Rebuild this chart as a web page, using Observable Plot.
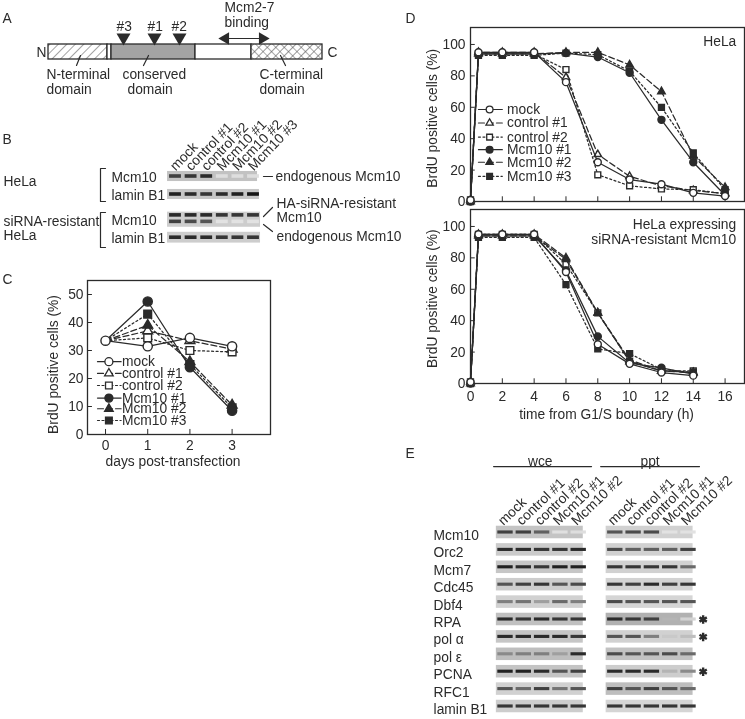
<!DOCTYPE html>
<html>
<head>
<meta charset="utf-8">
<script src="https://cdn.jsdelivr.net/npm/d3@7"></script>
<script src="https://cdn.jsdelivr.net/npm/@observablehq/plot@0.6"></script>
<style>
html,body{margin:0;padding:0;background:#fff}
#page{position:relative;width:745px;height:719px;overflow:hidden;filter:blur(0.3px)}
#page svg{position:absolute;background:transparent}
.soft{filter:blur(0.55px)}
</style>
</head>
<body>
<div id="page"></div>
<script>
// ---------- Series names ----------
const seriesNames = ["mock","control #1","control #2","Mcm10 #1","Mcm10 #2","Mcm10 #3"];

// ---------- Panel C ----------
const daysC = [0,1,2,3];
const mockC = [33.5,31.5,34.5,31.5];
const control1C = [33.5,37,33.5,30.5];
const control2C = [33.5,34.5,30,29.5];
const mcm1C = [33.5,47.5,24,8.5];
const mcm2C = [33.5,39,26,10.5];
const mcm3C = [33.5,43,25,9.5];

// ---------- Panel D ----------
const hoursTop = [0,0.5,2,4,6,8,10,12,14,16];
const mockTop = [1,95,95,95,76,25,14,11,5.5,3.5];
const control1Top = [1,95,95,95,79,30,16,10,7,5];
const control2Top = [1,94,94,94,84,17,10,8,7.5,5];
const mcm1Top = [0,94,94,94,94.5,92,82,52,25,4];
const mcm2Top = [0,94,94,94,95,95,87,70,29,9];
const mcm3Top = [0,93,93,93,94.5,93.5,83,60,31,7.5];

const hoursBottom = [0,0.5,2,4,6,8,10,12,14];
const mockBottom = [1,95,95,95,71,25,12.5,7,5];
const control1Bottom = [1,95,95,95,80,45,14,8,7];
const control2Bottom = [1,95,95,95,76,45,14,8,8];
const mcm1Bottom = [0,94,94,94,72,30,13,10,6];
const mcm2Bottom = [0,94,94,94,79,45,15,8,7];
const mcm3Bottom = [0,93,93,93,63,22,19,9,7];

// ---------- Panel E blots: band strength per lane, strip tone ----------
const laneNamesE = ["mock","control #1","control #2","Mcm10 #1","Mcm10 #2"];
const proteinsE = ["Mcm10","Orc2","Mcm7","Cdc45","Dbf4","RPA","pol α","pol ε","PCNA","RFC1","lamin B1"];
const wceBands = [
 [.8,.8,.65,.04,.05],[.9,.9,.85,.85,.9],[.95,.9,.85,.95,.95],[.7,.8,.85,.7,.75],
 [.5,.55,.35,.6,.5],[.9,.85,.9,.85,.85],[.9,.9,.9,.9,.85],[.45,.5,.5,.35,.9],
 [.95,.95,.9,.7,.8],[.7,.6,.8,.55,.7],[.85,.85,.85,.85,.85]];
const pptBands = [
 [.7,.75,.75,.03,.03],[.75,.65,.65,.65,.8],[.85,.85,.85,.85,.6],[.85,.8,.9,.8,.85],
 [.75,.7,.7,.7,.7],[.9,.85,.8,.25,.1],[.7,.7,.5,.15,.2],[.75,.7,.7,.75,.6],
 [.9,.9,.9,.25,.45],[.8,.7,.8,.7,.6],[.85,.85,.85,.85,.85]];
const wceTone = [.17,.14,.16,.13,.11,.19,.16,.2,.17,.11,.13];
const pptTone = [.11,.11,.11,.1,.09,.26,.11,.18,.13,.2,.09];
const starredE = ["RPA","pol α","PCNA"];

// ---------- Panel B blots ----------
const laneNamesB = ["mock","control #1","control #2","Mcm10 #1","Mcm10 #2","Mcm10 #3"];
const blotBMain = [
 [.8,.85,.9,.05,.05,.05],[.95,.9,.85,.9,.95,1],[.9,.9,.9,.85,.85,.85],[.9,.9,.9,.85,.85,.85]];
const blotBEndo = [.8,.75,.7,.03,.03,.03];

const ink = "#2b2b2b";
const font = "'Liberation Sans', Arial, sans-serif";
const fs = 13.8;
const page = document.getElementById("page");
function place(svg,left,top){
  svg.style.left = left+"px"; svg.style.top = top+"px";
  page.appendChild(svg);
  return svg;
}
const rootStyle = {fontFamily:font,fontSize:fs+"px",color:ink,background:"transparent",overflow:"visible"};

const styles = [
  {symbol:"circle",fill:"white",dash:null,k:1},
  {symbol:"triangle",fill:"white",dash:"6,3",k:.8},
  {symbol:"square",fill:"white",dash:"2,2.5",k:.95},
  {symbol:"circle",fill:ink,dash:null,k:1},
  {symbol:"triangle",fill:ink,dash:"6,3",k:.8},
  {symbol:"square",fill:ink,dash:"2,2.5",k:.95}
];
function seriesMarks(xs,ys,s,r,hideFirst){
  const pts = xs.map((x,i)=>({x,y:ys[i]}));
  return [
    Plot.line(pts,{x:"x",y:"y",stroke:ink,strokeWidth:1.25,strokeDasharray:s.dash}),
    Plot.dot(hideFirst ? pts.slice(1) : pts,{x:"x",y:"y",symbol:s.symbol,r:r*s.k,fill:s.fill,stroke:ink,strokeWidth:1.4})
  ];
}
function legendMarks(x1,xm,x2,xt,ys,r){
  return seriesNames.flatMap((name,i)=>{
    const s = styles[i];
    return [
      Plot.line([[x1,ys[i]],[x2,ys[i]]],{stroke:ink,strokeWidth:1.2,strokeDasharray:s.dash}),
      Plot.dot([[xm,ys[i]]],{symbol:s.symbol,r:r*s.k,fill:s.fill,stroke:ink,strokeWidth:1.3}),
      Plot.text([name],{x:xt,y:ys[i],text:d=>d,textAnchor:"start",fontSize:fs,fill:ink})
    ];
  });
}
const drawOrder = [1,2,4,5,3,0];

// ---------- Panel C chart ----------
const valuesC = [mockC,control1C,control2C,mcm1C,mcm2C,mcm3C];
const yTicksC = [0,10,20,30,40,50];
place(Plot.plot({
  width:300,height:210,marginLeft:87,marginRight:30,marginTop:10,marginBottom:46,
  style:rootStyle,
  x:{domain:[-0.427,3.91],axis:null},
  y:{domain:[0,55],axis:null},
  marks:[
    Plot.axisY({ticks:yTicksC,tickSize:0,tickPadding:4,label:null,fill:ink,fontSize:fs}),
    Plot.axisX({ticks:daysC,tickSize:0,tickPadding:6,tickFormat:d=>d,label:null,fill:ink,fontSize:fs}),
    Plot.ruleX(daysC,{y1:0,y2:1.8,stroke:ink,strokeWidth:1}),
    Plot.ruleY(yTicksC,{x1:-0.427,x2:-0.31,stroke:ink,strokeWidth:1}),
    Plot.frame({stroke:ink,strokeWidth:1.3}),
    ...drawOrder.flatMap(i=>seriesMarks(daysC,valuesC[i],styles[i],4.6,i!==0)),
    ...legendMarks(-0.19,0.08,0.37,0.39,[26,21.8,17.5,13,9.2,5],4),
    Plot.text(["BrdU positive cells (%)"],{x:-1.23,y:25,text:d=>d,rotate:-90,fontSize:fs,fill:ink}),
    Plot.text(["days post-transfection"],{x:1.6,y:-9.5,text:d=>d,fontSize:fs,fill:ink})
  ]
}),0,270);

// ---------- Panel D charts ----------
const valuesTop = [mockTop,control1Top,control2Top,mcm1Top,mcm2Top,mcm3Top];
const valuesBottom = [mockBottom,control1Bottom,control2Bottom,mcm1Bottom,mcm2Bottom,mcm3Bottom];
const hourTicks = [0,2,4,6,8,10,12,14,16];
const yTicksD = [0,20,40,60,80,100];
place(Plot.plot({
  width:335,height:185,marginLeft:60,marginRight:1,marginTop:7,marginBottom:4,
  style:rootStyle,
  x:{domain:[0,17.22],axis:null},
  y:{domain:[0,110.8],axis:null},
  marks:[
    Plot.axisY({ticks:yTicksD,tickSize:0,tickPadding:5,label:null,fill:ink,fontSize:fs}),
    Plot.ruleX(hourTicks,{y1:0,y2:3,stroke:ink,strokeWidth:1}),
    Plot.ruleY(yTicksD,{x1:0,x2:.3,stroke:ink,strokeWidth:1}),
    Plot.frame({stroke:ink,strokeWidth:1.3}),
    ...drawOrder.flatMap(i=>seriesMarks(hoursTop,valuesTop[i],styles[i],3.5)),
    ...legendMarks(0.5,1.2,2,2.3,[58.6,50,41,33,25,16],3.4),
    Plot.text(["HeLa"],{x:16.7,y:102,text:d=>d,textAnchor:"end",fontSize:fs,fill:ink}),
    Plot.text(["BrdU positive cells (%)"],{x:-2.4,y:53,text:d=>d,rotate:-90,fontSize:fs,fill:ink})
  ]
}),410,20);
place(Plot.plot({
  width:335,height:225,marginLeft:60,marginRight:1,marginTop:9,marginBottom:42,
  style:rootStyle,
  x:{domain:[0,17.22],axis:null},
  y:{domain:[0,110.8],axis:null},
  marks:[
    Plot.axisY({ticks:yTicksD,tickSize:0,tickPadding:5,label:null,fill:ink,fontSize:fs}),
    Plot.axisX({ticks:hourTicks,tickSize:0,tickPadding:8,tickFormat:d=>d,label:null,fill:ink,fontSize:fs}),
    Plot.ruleX(hourTicks,{y1:0,y2:3,stroke:ink,strokeWidth:1}),
    Plot.ruleY(yTicksD,{x1:0,x2:.3,stroke:ink,strokeWidth:1}),
    Plot.frame({stroke:ink,strokeWidth:1.3}),
    ...drawOrder.flatMap(i=>seriesMarks(hoursBottom,valuesBottom[i],styles[i],3.5)),
    Plot.text(["HeLa expressing"],{x:16.7,y:101,text:d=>d,textAnchor:"end",fontSize:fs,fill:ink}),
    Plot.text(["siRNA-resistant Mcm10"],{x:16.7,y:91.5,text:d=>d,textAnchor:"end",fontSize:fs,fill:ink}),
    Plot.text(["BrdU positive cells (%)"],{x:-2.4,y:54,text:d=>d,rotate:-90,fontSize:fs,fill:ink}),
    Plot.text(["time from G1/S boundary (h)"],{x:8.55,y:-19.5,text:d=>d,fontSize:fs,fill:ink})
  ]
}),410,200);

// ---------- Panels A and B schematic layer (page units) ----------
const anno = [
 ["A",2,18],["B",2,139],["C",2,279],["D",405,18],["E",405,453],
 ["N",36,52],["C",327,52],
 ["#3",116,26],["#1",147,26],["#2",171,26],
 ["Mcm2-7",224,7],["binding",224,22],
 ["N-terminal",46,74],["domain",46,89],
 ["conserved",122,74],["domain",127,89],
 ["C-terminal",259,74],["domain",259,89],
 ["HeLa",3,181],["siRNA-resistant",3,221],["HeLa",3,235],
 ["Mcm10",111,177],["lamin B1",111,195],["Mcm10",111,220],["lamin B1",111,238],
 ["endogenous Mcm10",275,176],["HA-siRNA-resistant",276,203],["Mcm10",276,217],["endogenous Mcm10",276,236]
];
const leaderLines = [
 [[80,55],[76,65]],[[148,55],[143,65]],[[280,55],[285,65]],
 [[263,176],[272,176]],[[263,216],[272,207]],[[263,224],[272,231]],
 [[105,168],[100,168],[100,201],[105,201]],[[105,212],[100,212],[100,247],[105,247]],
 [[224,38],[263,38]]
];
const barSegments = [
 {x1:48,x2:107,fill:"url(#hatchA)"},
 {x1:107,x2:111,fill:"white"},
 {x1:111,x2:195,fill:"#a3a3a3"},
 {x1:195,x2:251,fill:"white"},
 {x1:251,x2:322,fill:"url(#crossA)"}
];
const schematic = Plot.plot({
  width:745,height:719,margin:0,
  style:rootStyle,
  x:{domain:[0,745],axis:null},
  y:{domain:[719,0],axis:null},
  marks:[
    Plot.rect(barSegments,{x1:"x1",x2:"x2",y1:44,y2:59,fill:"fill",stroke:ink,strokeWidth:1.3}),
    Plot.dot([123,154,179],{x:d=>d,y:37,symbol:"triangle",rotate:180,r:5.2,fill:ink}),
    ...leaderLines.map(l=>Plot.line(l,{stroke:ink,strokeWidth:1.2})),
    Plot.dot([[225,-90],[262,90]],{x:d=>d[0],y:38,rotate:d=>d[1],symbol:"triangle",r:4.6,fill:ink}),
    Plot.text(anno,{x:d=>d[1],y:d=>d[2],text:d=>d[0],textAnchor:"start",fontSize:fs,fill:ink})
  ]
});
place(schematic,0,0);
const defs = d3.select(schematic).insert("defs",":first-child");
const h = defs.append("pattern").attr("id","hatchA").attr("width",6).attr("height",6).attr("patternUnits","userSpaceOnUse").attr("patternTransform","rotate(45)");
h.append("rect").attr("width",6).attr("height",6).attr("fill","white");
h.append("line").attr("x1",0).attr("y1",0).attr("x2",0).attr("y2",6).attr("stroke","#666").attr("stroke-width",1.2);
const c = defs.append("pattern").attr("id","crossA").attr("width",6).attr("height",6).attr("patternUnits","userSpaceOnUse").attr("patternTransform","rotate(45)");
c.append("rect").attr("width",6).attr("height",6).attr("fill","white");
c.append("path").attr("d","M0 0V6M0 0H6").attr("stroke","#555").attr("stroke-width",1.2).attr("fill","none");

// ---------- Panel B blot layer ----------
const rowPosB = [0,1,2.4,3.4];
const stripB = [
 {r:rowPosB[0],a:.28,x2:5.26,tone:.18},{r:rowPosB[1],a:.28,x2:5.38,tone:.16},
 {r:rowPosB[2],a:.42,x2:5.45,tone:.13},{r:rowPosB[3],a:.3,x2:5.45,tone:.13}];
const bandsB = [];
blotBMain.forEach((row,r)=>row.forEach((v,l)=>bandsB.push({lane:l,y:rowPosB[r]+(r===2?-.24:0),v})));
blotBEndo.forEach((v,l)=>bandsB.push({lane:l,y:rowPosB[2]+.12,v}));
const darken = v => d3.interpolateRgb("#e8e8e8","#161616")(v);
place(Plot.plot({
  width:400,height:125,marginLeft:175,marginRight:147,marginTop:46,marginBottom:17.8,
  style:rootStyle,
  x:{domain:[0,5],axis:null},
  y:{domain:[3.4,0],axis:null},
  color:{type:"identity"},
  marks:[
    Plot.rect(stripB,{x1:-.51,x2:"x2",y1:d=>d.r-d.a,y2:d=>d.r+d.a,fill:d=>darken(d.tone)}),
    Plot.rect(bandsB,{x1:d=>d.lane-.38,x2:d=>d.lane+.38,y1:d=>d.y-.1,y2:d=>d.y+.1,fill:d=>darken(d.v),className:"soft"}),
    Plot.text(laneNamesB,{x:(d,i)=>i,y:-.45,text:d=>d,rotate:-46,textAnchor:"start",dx:-3,fontSize:fs,fill:ink})
  ]
}),0,130);

// ---------- Panel E ----------
const bandsE = [];
const stripsE = [];
proteinsE.forEach((p,r)=>{
  stripsE.push({r,x1:-.5,x2:4.25,tone:wceTone[r]},{r,x1:5.5,x2:10.25,tone:pptTone[r]});
  wceBands[r].forEach((v,l)=>bandsE.push({r,lane:l,v}));
  pptBands[r].forEach((v,l)=>bandsE.push({r,lane:l+6,v}));
});
const lanesE = [0,1,2,3,4,6,7,8,9,10].map((lane,i)=>({lane,name:laneNamesE[i%5]}));
place(Plot.plot({
  width:335,height:279,marginLeft:95,marginRight:57,marginTop:92,marginBottom:13,
  style:rootStyle,
  x:{domain:[0,10],axis:null},
  y:{domain:[10,0],axis:null},
  color:{type:"identity"},
  marks:[
    Plot.rect(stripsE,{x1:"x1",x2:"x2",y1:d=>d.r-.36,y2:d=>d.r+.36,fill:d=>darken(d.tone)}),
    Plot.rect(bandsE,{x1:d=>d.lane-.42,x2:d=>d.lane+.42,y1:d=>d.r-.09,y2:d=>d.r+.09,fill:d=>darken(d.v),className:"soft"}),
    Plot.text(proteinsE,{x:-3.93,y:(d,i)=>i,dy:3,text:d=>d,textAnchor:"start",fontSize:fs,fill:ink}),
    Plot.text(lanesE,{x:"lane",y:-.55,text:"name",rotate:-44,textAnchor:"start",dx:-5,fontSize:fs,fill:ink}),
    Plot.dot(starredE,{x:10.8,y:d=>proteinsE.indexOf(d),symbol:"asterisk",r:4,stroke:ink,strokeWidth:2.4}),
    Plot.line([[-.65,-3.79],[4.7,-3.79]],{stroke:ink,strokeWidth:1.2}),
    Plot.line([[5.2,-3.79],[10.6,-3.79]],{stroke:ink,strokeWidth:1.2}),
    Plot.text(["wce"],{x:1.9,y:-4.05,text:d=>d,fontSize:fs,fill:ink}),
    Plot.text(["ppt"],{x:7.9,y:-4.05,text:d=>d,fontSize:fs,fill:ink})
  ]
}),410,440);
</script>
</body>
</html>
